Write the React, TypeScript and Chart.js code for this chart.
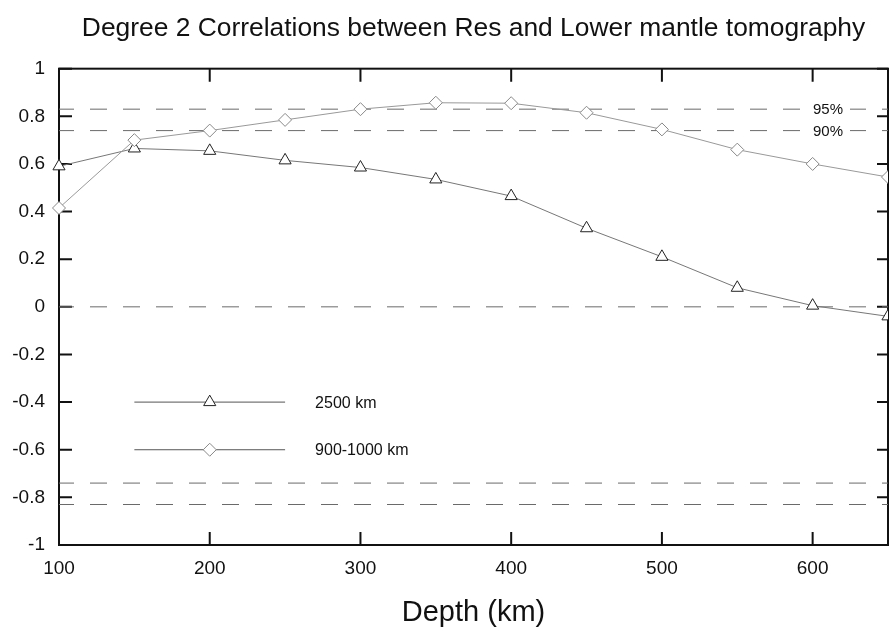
import React, { useEffect, useRef } from 'react';
import { Chart, registerables } from 'chart.js';

Chart.register(...registerables);

const depths = [100, 150, 200, 250, 300, 350, 400, 450, 500, 550, 600, 650];
const corr2500 = [0.59, 0.665, 0.655, 0.615, 0.585, 0.535, 0.465, 0.33, 0.21, 0.08, 0.005, -0.04];
const corr900 = [0.415, 0.7, 0.74, 0.785, 0.83, 0.857, 0.855, 0.815, 0.745, 0.66, 0.6, 0.545];
const refLevels = [0.83, 0.74, 0, -0.74, -0.83];
const refLabelLevels = [0.83, 0.74];
const refLabelTexts = ['95%', '90%'];
const xTicks = [100, 200, 300, 400, 500, 600];
const yTicks = [-1, -0.8, -0.6, -0.4, -0.2, 0, 0.2, 0.4, 0.6, 0.8, 1];
const seriesNames = ['2500 km', '900-1000 km'];
const legendLevels = [-0.4, -0.6];

const FONT = '"Liberation Sans", Arial, Helvetica, sans-serif';

function drawTriangle(ctx: CanvasRenderingContext2D, x: number, y: number, r: number) {
  ctx.beginPath();
  ctx.moveTo(x, y - r);
  ctx.lineTo(x + (r * Math.sqrt(3)) / 2, y + r / 2);
  ctx.lineTo(x - (r * Math.sqrt(3)) / 2, y + r / 2);
  ctx.closePath();
  ctx.fill();
  ctx.stroke();
}
function drawDiamond(ctx: CanvasRenderingContext2D, x: number, y: number, r: number) {
  ctx.beginPath();
  ctx.moveTo(x, y - r);
  ctx.lineTo(x + r, y);
  ctx.lineTo(x, y + r);
  ctx.lineTo(x - r, y);
  ctx.closePath();
  ctx.fill();
  ctx.stroke();
}

const framePlugin = {
  id: 'frame',
  beforeDatasetsDraw(chart: any) {
    const { ctx, chartArea, scales } = chart;
    const { left, right, top, bottom } = chartArea;
    const x = scales.x;
    const y = scales.y;
    ctx.save();
    ctx.strokeStyle = '#111';
    ctx.lineWidth = 2;
    ctx.strokeRect(left, top, right - left, bottom - top);
    ctx.beginPath();
    xTicks.forEach((v) => {
      const px = x.getPixelForValue(v);
      ctx.moveTo(px, bottom);
      ctx.lineTo(px, bottom - 13);
      ctx.moveTo(px, top);
      ctx.lineTo(px, top + 13);
    });
    yTicks.forEach((v) => {
      const py = y.getPixelForValue(v);
      ctx.moveTo(left, py);
      ctx.lineTo(left + 13, py);
      ctx.moveTo(right, py);
      ctx.lineTo(right - 11, py);
    });
    ctx.stroke();
    ctx.restore();
  },
  afterDatasetsDraw(chart: any) {
    const { ctx, chartArea, scales } = chart;
    const x = scales.x;
    const y = scales.y;
    ctx.save();
    ctx.font = `15px ${FONT}`;
    ctx.textBaseline = 'middle';
    ctx.textAlign = 'left';
    refLabelLevels.forEach((lv, i) => {
      const py = y.getPixelForValue(lv);
      ctx.fillStyle = '#fff';
      ctx.fillRect(chartArea.right - 84, py - 6, 46, 12);
      ctx.fillStyle = '#111';
      ctx.fillText(refLabelTexts[i], chartArea.right - 75, py + 1);
    });
    const x0 = x.getPixelForValue(150);
    const x1 = x.getPixelForValue(250);
    const xm = x.getPixelForValue(200);
    legendLevels.forEach((lv, i) => {
      const py = y.getPixelForValue(lv);
      ctx.strokeStyle = '#555';
      ctx.lineWidth = 1;
      ctx.beginPath();
      ctx.moveTo(x0, py);
      ctx.lineTo(x1, py);
      ctx.stroke();
      ctx.fillStyle = '#fff';
      if (i === 0) {
        ctx.strokeStyle = '#222';
        drawTriangle(ctx, xm, py, 7);
      } else {
        ctx.strokeStyle = '#888';
        drawDiamond(ctx, xm, py, 6.5);
      }
      ctx.fillStyle = '#111';
      ctx.font = `16px ${FONT}`;
      ctx.fillText(seriesNames[i], x1 + 30, py + 1);
    });
    ctx.restore();
  },
};

export default function App() {
  const ref = useRef<HTMLCanvasElement | null>(null);
  useEffect(() => {
    document.body.style.margin = '0';
    const canvas = ref.current;
    if (!canvas) return;
    const refDatasets = refLevels.map((lv) => ({
      type: 'line' as const,
      label: `ref ${lv}`,
      data: [
        { x: 100, y: lv },
        { x: 650, y: lv },
      ],
      borderColor: '#6a6a6a',
      borderWidth: 1,
      borderDash: [17, 16],
      borderDashOffset: 2,
      pointRadius: 0,
      order: 10,
    }));
    const chart = new Chart(canvas, {
      type: 'line',
      data: {
        datasets: [
          {
            label: seriesNames[0],
            data: depths.map((d, i) => ({ x: d, y: corr2500[i] })),
            borderColor: '#777',
            borderWidth: 1,
            pointStyle: 'triangle',
            pointRadius: 7,
            pointBorderColor: '#222',
            pointBackgroundColor: '#fff',
            pointBorderWidth: 1,
            order: 1,
            clip: { left: 12, right: 0, top: 12, bottom: 12 },
          },
          {
            label: seriesNames[1],
            data: depths.map((d, i) => ({ x: d, y: corr900[i] })),
            borderColor: '#999',
            borderWidth: 1,
            pointStyle: 'rectRot',
            pointRadius: 6.5,
            pointBorderColor: '#888',
            pointBackgroundColor: '#fff',
            pointBorderWidth: 1,
            order: 0,
            clip: { left: 12, right: 0, top: 12, bottom: 12 },
          },
          ...refDatasets,
        ] as any,
      },
      options: {
        responsive: false,
        devicePixelRatio: 1,
        animation: false,
        events: [],
        layout: { autoPadding: false, padding: { right: 2, left: 0, top: 0, bottom: 0 } },
        plugins: {
          legend: { display: false },
          tooltip: { enabled: false },
          title: {
            display: true,
            text: 'Degree 2 Correlations between Res and Lower mantle tomography',
            fullSize: false,
            color: '#111',
            font: { family: FONT, size: 26.4, weight: 'normal' },
            padding: { top: 13, bottom: 24 },
          },
        },
        scales: {
          x: {
            type: 'linear',
            min: 100,
            max: 650,
            grid: { display: false, drawTicks: false },
            border: { display: false },
            afterBuildTicks: (scale: any) => {
              scale.ticks = xTicks.map((v) => ({ value: v }));
            },
            afterFit: (scale: any) => {
              scale.height = 87;
              scale.paddingLeft = 0;
              scale.paddingRight = 0;
            },
            ticks: {
              color: '#111',
              padding: 12,
              maxRotation: 0,
              font: { family: FONT, size: 19 },
              callback: (v: any) => String(v),
            },
            title: {
              display: true,
              text: 'Depth (km)',
              color: '#111',
              font: { family: FONT, size: 29 },
              padding: { top: 0, bottom: 2 },
            },
          },
          y: {
            type: 'linear',
            min: -1,
            max: 1,
            grid: { display: false, drawTicks: false },
            border: { display: false },
            afterBuildTicks: (scale: any) => {
              scale.ticks = yTicks.map((v) => ({ value: v }));
            },
            afterFit: (scale: any) => {
              scale.width = 59;
              scale.paddingTop = 0;
              scale.paddingBottom = 0;
            },
            ticks: {
              color: '#111',
              padding: 14,
              font: { family: FONT, size: 19 },
              callback: (v: any) => String(Math.round(Number(v) * 10) / 10),
            },
          },
        },
      },
      plugins: [framePlugin],
    } as any);
    return () => chart.destroy();
  }, []);
  return <canvas ref={ref} width={890} height={632} style={{ display: 'block', width: 890, height: 632 }} />;
}
